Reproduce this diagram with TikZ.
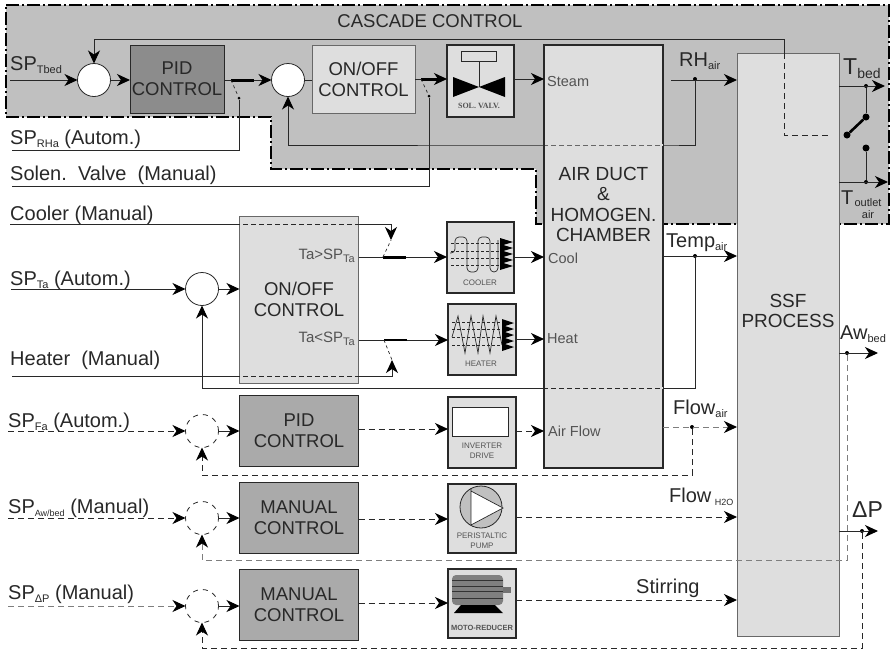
\documentclass[tikz,border=0pt]{standalone}
\usepackage{fontspec}
\setmainfont{Liberation Sans}
\newfontfamily\iconserif{Liberation Serif}
\usepackage{xcolor}
\usetikzlibrary{arrows.meta,calc}
\definecolor{cascade}{RGB}{192,192,192}
\definecolor{lightbox}{RGB}{222,222,222}
\definecolor{pidgray}{RGB}{140,140,140}
\definecolor{ctlgray}{RGB}{170,170,170}
\definecolor{ink}{RGB}{40,40,40}
\newcommand{\subtx}[1]{\raisebox{-3pt}{\fontsize{11}{11}\selectfont #1}}
\tikzset{
  block/.style={draw=ink,line width=1pt,inner sep=0pt,outer sep=0pt,align=center,text=ink,
    font=\fontsize{18.5}{21}\selectfont},
  device/.style={block,fill=lightbox,line width=1.2pt},
  sumnode/.style={circle,draw=ink,fill=white,line width=.8pt,minimum size=33pt,inner sep=0pt,outer sep=0pt},
  jdot/.style={circle,fill=black,minimum size=4pt,inner sep=0pt},
  lab/.style={anchor=base west,inner sep=0pt,text=ink,font=\fontsize{20}{22}\selectfont},
  port/.style={anchor=base west,inner sep=0pt,text=ink!80,font=\fontsize{14.5}{16}\selectfont},
  tag/.style={anchor=base east,inner sep=0pt,text=ink!80,font=\fontsize{15}{16}\selectfont},
  icontxt/.style={inner sep=0pt,align=center,text=ink!80,font=\fontsize{8}{10}\selectfont},
  wire/.style={draw=ink,line width=1pt},
  flow/.style={wire,-{Stealth[length=13pt,width=12pt,inset=4pt,color=black]}},
  dwire/.style={wire,dash pattern=on 6pt off 4pt},
  dflow/.style={flow,dash pattern=on 6pt off 4pt},
  thro/.style={draw=lightbox,line width=1.2pt,dash pattern=on 3pt off 5pt},
  contact/.style={draw=black,line width=3pt},
}
\begin{document}
\begin{tikzpicture}[x=1pt,y=-1pt]
\useasboundingbox (0,0) rectangle (894,649);
% cascade area
\fill[cascade] (6,5) -- (889,5) -- (889,224) -- (536,224) -- (536,169) -- (271,169) -- (271,117) -- (6,117) -- cycle;
\draw[black,line width=2pt,dash pattern=on 13pt off 3pt on 2pt off 3pt]
  (6,5) -- (889,5) -- (889,224) -- (536,224) -- (536,169) -- (271,169) -- (271,117) -- (6,117) -- cycle;
\node[inner sep=0pt,text=ink,font=\fontsize{18.5}{20}\selectfont] (cascadelab) at (430,21) {CASCADE CONTROL};

% big blocks
\node[block,fill=lightbox,minimum width=119pt,minimum height=423pt,line width=1.2pt] (duct) at (603.5,256.5) {};
\node[block,fill=lightbox,draw=ink!70,minimum width=102pt,minimum height=583pt] (ssf) at (788,344.5) {};
\node[block,anchor=center,draw=none,font=\fontsize{19}{20.5}\selectfont] (ducttxt) at (603.5,204.5) {AIR DUCT\\\&\\HOMOGEN.\\CHAMBER};
\node[block,draw=none,font=\fontsize{19}{20.5}\selectfont] (ssftxt) at (788,311) {SSF\\PROCESS};
\node[block,fill=pidgray,minimum width=94pt,minimum height=68pt] (pidb) at (177,79) {PID\\CONTROL};
\node[block,fill=lightbox,draw=ink!70,minimum width=103pt,minimum height=68pt] (onoffb) at (363.5,79) {ON/OFF\\CONTROL};
\node[block,fill=lightbox,draw=ink!70,minimum width=119pt,minimum height=167pt] (onoffa) at (299,299.5) {ON/OFF\\CONTROL};

% sums and control blocks of the lower rows
\node[sumnode] (sumt) at (94,80) {};
\node[sumnode] (sumrh) at (288,80) {};
\node[sumnode] (sumta) at (202,289) {};
\foreach \nm/\yy/\cy/\ctl in {
  fa/431/431/{PID\\CONTROL},
  aw/518/518/{MANUAL\\CONTROL},
  dp/606/605/{MANUAL\\CONTROL}}{
  \node[sumnode,dash pattern=on 5pt off 5pt,fill=none] (sum\nm) at (202,\yy) {};
  \node[block,fill=ctlgray,minimum width=119pt,minimum height=71pt] (ctl\nm) at (299,\cy) {\ctl};
  \draw[flow] (sum\nm.east) -- (ctl\nm.west |- sum\nm.east);
}

% device boxes
\node[device,minimum width=67pt,minimum height=72pt] (valve) at (480.5,81) {};
\node[device,minimum width=67pt,minimum height=71pt] (cooler) at (480.5,257.5) {};
\node[device,minimum width=68pt,minimum height=71pt] (heater) at (482,339.5) {};
\node[device,minimum width=68pt,minimum height=71pt] (inverter) at (482,432.5) {};
\node[device,minimum width=68pt,minimum height=69pt] (pump) at (482,518.5) {};
\node[device,minimum width=68pt,minimum height=69pt] (motor) at (482,603.5) {};

% valve
\draw[ink,fill=lightbox,line width=.8pt] (461,51) rectangle (496,61);
\draw[ink,line width=.8pt] (479,61) -- (479,87);
\fill[black] (453,77) -- (479,87) -- (453,97) -- cycle (505,77) -- (479,87) -- (505,97) -- cycle;
\node[icontxt,font=\iconserif\bfseries\fontsize{8}{10}\selectfont] (valvetxt) at (479,106) {SOL. VALV.};
% cooler
\foreach \yy in {243,251,258,265}{\draw[ink,densely dashed,line width=.5pt] (451,\yy) -- (500,\yy);}
\draw[ink,line width=.7pt,rounded corners=4pt] (450,253) -- (455,253) -- (455,237) -- (467,237) -- (467,272)
  -- (478,272) -- (478,237) -- (490,237) -- (490,272) -- (498,272) -- (498,240);
\foreach \yy in {242,248,254,260,266}{\fill[black] (500,\yy-4) -- (513,\yy) -- (500,\yy+4) -- cycle;}
\node[icontxt] (coolertxt) at (480,283) {COOLER};
% heater
\foreach \yy in {322,329,337,345}{\draw[ink,densely dashed,line width=.5pt] (452,\yy) -- (502,\yy);}
\draw[ink,line width=.7pt] (452,337) -- (458,316) -- (465,353) -- (471,316) -- (478,353) -- (483,316) -- (490,353) -- (496,316) -- (502,345);
\foreach \yy in {323,329,335,341,347}{\fill[black] (502,\yy-4) -- (514,\yy) -- (502,\yy+4) -- cycle;}
\node[icontxt] (heatertxt) at (481,364) {HEATER};
% inverter
\draw[ink,fill=white,line width=1pt] (452,407) rectangle (508,436);
\node[icontxt] (invertertxt) at (482,451) {INVERTER\\DRIVE};
% pump
\draw[ink,fill=cascade,line width=.8pt] (481,507) circle (21);
\fill[white] (471,491) -- (503,508) -- (471,525) -- cycle;
\draw[ink,line width=.7pt] (471,488) -- (471,525) -- (503,508) -- (471,491);
\node[icontxt] (pumptxt) at (482,541) {PERISTALTIC\\PUMP};
% motor
\fill[black!50,rounded corners=4pt] (452,575) rectangle (503,605);
\foreach \yy in {580,586,591,598}{\draw[black!80,line width=.8pt] (452,\yy) -- (503,\yy);}
\fill[black!55] (503,587) rectangle (511,593);
\fill[black] (454,613) -- (461,605) -- (495,605) -- (503,613) -- cycle;
\node[icontxt,font=\bfseries\fontsize{7.5}{9}\selectfont] (motortxt) at (482,628) {MOTO-REDUCER};

% free ends of the wires
\coordinate (sptbed) at (10,80);
\coordinate (sprh) at (12,150);
\coordinate (spsol) at (12,186);
\coordinate (spcool) at (10,224);
\coordinate (spta) at (11,289);
\coordinate (spheat) at (12,376);
\coordinate (rhout) at (671,80);
\coordinate (tempout) at (663,256);
\coordinate (flowout) at (663,427);

% junctions
\node[jdot] (jrh) at (695,79) {};
\node[jdot] (jtemp) at (695,256) {};
\node[jdot] (jflow) at (692,427) {};
\node[jdot] (jtbed) at (866,86) {};
\node[jdot] (jtout) at (866,182) {};
\node[jdot] (jaw) at (847,353) {};
\node[jdot] (jdp) at (862,531) {};
\node[jdot,minimum size=7pt] (swa) at (847,135) {};
\node[jdot,minimum size=7pt] (swb) at (866,117) {};
\node[jdot,minimum size=7pt] (swc) at (866,148) {};

% cascade loop
\draw[flow] (sptbed) -- (sumt.west);
\draw[flow] (sumt.east) -- (pidb.west |- sumt.east);
\draw[flow] (pidb.east |- sumrh.west) -- (sumrh.west);
\draw[contact] (231,80) coordinate (pidc) -- (254,80);
\node[jdot,minimum size=3pt] (pidsw) at (239,98) {};
\draw[ink,dashed,line width=.7pt] (pidc) -- (pidsw);
\draw[wire] (pidsw) -- (pidsw |- sprh) -- (sprh);
\draw[wire] (sumrh.east) -- (onoffb.west |- sumrh.east);
\draw[flow] (onoffb.east |- 0,79) -- (valve.west |- 0,79);
\draw[contact] (421,79) coordinate (bbc) -- (441,79);
\node[jdot,minimum size=3pt] (onsw) at (429,96) {};
\draw[ink,dashed,line width=.7pt] (bbc) -- (onsw);
\draw[wire] (onsw) -- (onsw |- spsol) -- (spsol);
\draw[flow] (valve.east |- 0,79) -- (duct.west |- 0,79);
\draw[flow] (rhout) -- (ssf.west |- rhout);
\draw[flow] (jrh) -- (jrh |- 0,145) -- (duct.east |- 0,145) -- (duct.west |- 0,145) -- (sumrh.south |- 0,145) -- (sumrh.south);
\draw[thro] (duct.east |- 0,145) -- (duct.west |- 0,145);
\draw[flow] (784,53) -- (784,39) -- (sumt.north |- 0,39) -- (sumt.north);
\draw[dwire] (784,53) -- (784,135) -- (830,135);
\draw[flow] (ssf.east |- jtbed) -- (885,86);
\draw[flow] (ssf.east |- jtout) -- (888,182);
\draw[wire] (jtbed) -- (swb);
\draw[black,line width=2.6pt] (swa) -- (swb);
\draw[wire] (swc) -- (jtout);

% air temperature loop
\draw[flow] (spcool) -- (391,224) -- (391,240);
\draw[thro] (onoffa.west |- spcool) -- (onoffa.east |- spcool);
\draw[flow] (onoffa.east |- 0,257) -- (cooler.west |- 0,257);
\draw[contact] (383,257) coordinate (coolc) -- (406,257);
\draw[ink,dashed,line width=.7pt] (coolc) -- (391,240);
\draw[flow] (cooler.east |- 0,257) -- (duct.west |- 0,257);
\draw[flow] (spheat) -- (392,376) -- (392,360);
\draw[thro] (onoffa.west |- spheat) -- (onoffa.east |- spheat);
\draw[flow] (onoffa.east |- 0,340) -- (heater.west |- 0,340);
\draw[contact,line width=1.8pt] (384,340) coordinate (heatc) -- (407,340);
\draw[ink,dashed,line width=.7pt] (heatc) -- (392,360);
\draw[flow] (heater.east |- 0,339) -- (duct.west |- 0,339);
\draw[flow] (spta) -- (sumta.west);
\draw[flow] (sumta.east) -- (onoffa.west |- sumta.east);
\draw[flow] (tempout) -- (ssf.west |- tempout);
\draw[flow] (jtemp) -- (jtemp |- 0,388) -- (sumta.south |- 0,388) -- (sumta.south);
\draw[thro] (duct.east |- 0,388) -- (duct.west |- 0,388);

% lower rows, dashed
\draw[dflow] (8,431) -- (sumfa.west);
\draw[dflow] (ctlfa.east |- 0,429) -- (inverter.west |- 0,429);
\draw[dflow] (inverter.east |- 0,431) -- (duct.west |- 0,431);
\draw[dflow,draw=ink!60] (flowout) -- (ssf.west |- flowout);
\draw[dflow] (jflow) -- (jflow |- 0,475) -- (sumfa.south |- 0,475) -- (sumfa.south);
\draw[dflow] (8,518) -- (sumaw.west);
\draw[dflow] (ctlaw.east |- 0,519) -- (pump.west |- 0,519);
\draw[dflow] (pump.east |- 0,517) -- (ssf.west |- 0,517);
\draw[flow] (ssf.east |- jaw) -- (878,353);
\draw[dflow,draw=ink!60] (jaw) -- (jaw |- 0,560) -- (sumaw.south |- 0,560) -- (sumaw.south);
\draw[dflow,draw=ink!60] (8,606) -- (sumdp.west);
\draw[dflow] (ctldp.east |- 0,603) -- (motor.west |- 0,603);
\draw[dflow] (motor.east |- 0,600) -- (ssf.west |- 0,600);
\draw[flow] (ssf.east |- jdp) -- (878,531);
\draw[dflow] (jdp) -- (jdp |- 0,648) -- (sumdp.south |- 0,648) -- (sumdp.south);

% labels
\foreach \nm/\xx/\yy/\lab in {
  a/10/70/{SP\subtx{Tbed}},
  b/10/144/{SP\subtx{RHa} (Autom.)},
  c/10/180/{Solen.\ \ Valve\ \ (Manual)},
  d/10/220/{Cooler (Manual)},
  e/10/285/{SP\subtx{Ta} (Autom.)},
  f/10/365/{Heater\ \ (Manual)},
  g/8/427/{SP\subtx{Fa} (Autom.)},
  h/8/513/{SP\raisebox{-3pt}{\fontsize{9}{9}\selectfont Aw/bed} (Manual)},
  i/8/599/{SP\subtx{ΔP} (Manual)},
  j/679/66/{RH\subtx{air}},
  k/666/247/{Temp\subtx{air}},
  l/673/414/{Flow\subtx{air}},
  m/669/502/{Flow\,\raisebox{-3pt}{\fontsize{9}{9}\selectfont H2O}},
  n/636/593/{Stirring},
  o/840/339/{Aw\subtx{bed}}}{
  \node[lab] (lab\nm) at (\xx,\yy) {\lab};
}
\foreach \nm/\xx/\yy/\lab in {
  a/547/86/Steam,
  b/548/263/Cool,
  c/547/343/Heat,
  d/548/436/Air Flow}{
  \node[port] (port\nm) at (\xx,\yy) {\lab};
}
\node[tag] (tagh) at (355,259) {Ta>SP\subtx{Ta}};
\node[tag] (tagl) at (355,342) {Ta<SP\subtx{Ta}};
\node[lab,font=\fontsize{23}{26}\selectfont] (labtbed) at (843,74) {T\raisebox{-4pt}{\fontsize{14}{14}\selectfont bed}};
\node[lab,font=\fontsize{20}{22}\selectfont] (labtout) at (841,204) {T};
\node[icontxt,text=ink,font=\fontsize{11}{12}\selectfont] (labtoutb) at (868,209) {outlet\\air};
\node[lab,font=\fontsize{23}{26}\selectfont] (labdp) at (852,517) {ΔP};
\end{tikzpicture}
\end{document}
